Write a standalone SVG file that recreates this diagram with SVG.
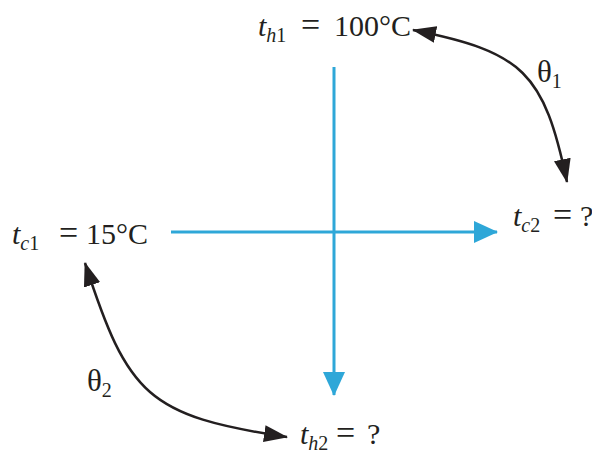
<svg xmlns="http://www.w3.org/2000/svg" width="592" height="458" viewBox="0 0 592 458">
<style>
text{font-family:"Liberation Serif","Times New Roman",serif;font-size:30px;fill:#231f20}
.it{font-style:italic}
.sub{font-size:20px}
.eq{font-size:34px}
.th{font-size:31px}
.flow{stroke:#2ea7d8;stroke-width:3;fill:none}
.arc{stroke:#231f20;stroke-width:2.5;fill:none}
</style>
<defs>
<marker id="ab" markerUnits="userSpaceOnUse" markerWidth="24" markerHeight="22" viewBox="0 0 24 22" refX="23" refY="11" orient="auto"><path d="M0,0 L24,11 L0,22 z" fill="#2ea7d8"/></marker>
<marker id="ak" markerUnits="userSpaceOnUse" markerWidth="24" markerHeight="17" viewBox="0 0 24 17" refX="23" refY="8.5" orient="auto-start-reverse"><path d="M0,0 L24,8.5 L0,17 z" fill="#231f20"/></marker>
</defs>
<g id="connectors">
<line class="flow" x1="334" y1="67" x2="334" y2="395" marker-end="url(#ab)"/>
<line class="flow" x1="171" y1="232" x2="497" y2="232" marker-end="url(#ab)"/>
<path class="arc" d="M413,30 C523,52 544,72 567,182" marker-start="url(#ak)" marker-end="url(#ak)"/>
<path class="arc" d="M85,263 C128,396 148,416 287,437" marker-start="url(#ak)" marker-end="url(#ak)"/>
</g>
<g id="th1"><text y="36"><tspan x="258" class="it">t</tspan><tspan class="sub" y="42"><tspan class="it">h</tspan>1</tspan><tspan x="301" y="36" class="eq">=</tspan><tspan x="334">100°C</tspan></text></g>
<g id="tc1"><text y="244"><tspan x="12" class="it">t</tspan><tspan class="sub" y="250"><tspan class="it">c</tspan>1</tspan><tspan x="59" y="244" class="eq">=</tspan><tspan x="86">15°C</tspan></text></g>
<g id="tc2"><text y="226"><tspan x="513" class="it">t</tspan><tspan class="sub" y="232"><tspan class="it">c</tspan>2</tspan><tspan x="553" y="226" class="eq">=</tspan><tspan x="580">?</tspan></text></g>
<g id="th2"><text y="444"><tspan x="300" class="it">t</tspan><tspan class="sub" y="450"><tspan class="it">h</tspan>2</tspan><tspan x="336" y="444" class="eq">=</tspan><tspan x="367">?</tspan></text></g>
<g id="theta1"><text y="82"><tspan x="537" class="th">θ</tspan><tspan class="sub" y="88">1</tspan></text></g>
<g id="theta2"><text y="391"><tspan x="87" class="th">θ</tspan><tspan class="sub" y="397">2</tspan></text></g>
</svg>
